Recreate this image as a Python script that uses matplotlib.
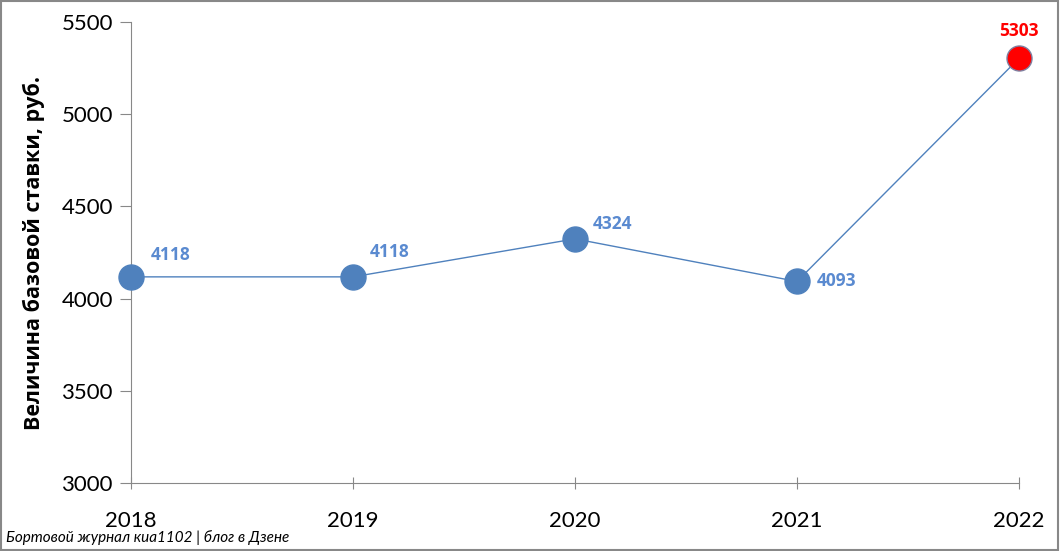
import matplotlib
matplotlib.use('Agg')
import matplotlib.pyplot as plt
from matplotlib.patches import Rectangle

years = ['2018', '2019', '2020', '2021', '2022']
rates = [4118, 4118, 4324, 4093, 5303]
yticks = [3000, 3500, 4000, 4500, 5000, 5500]
# label offsets in points (dx, dy, ha)
label_pos = [(14, 16, 'left'), (12, 18, 'left'), (13, 11, 'left'), (14, 0, 'left'), (0, 20, 'center')]

blue = '#4F81BD'
label_blue = '#5A8AD0'

plt.rcParams['font.family'] = ['Lato', 'DejaVu Sans']

fig = plt.figure(figsize=(10.6, 5.51), dpi=100)
ax = fig.add_axes([0.1236, 0.1234, 0.8377, 0.8366])

x = list(range(len(years)))
ax.plot(x, rates, color=blue, lw=1, zorder=2, clip_on=False)
for i, v in enumerate(rates):
    last = i == len(rates) - 1
    ax.plot(i, v, 'o', ms=18, color='red' if last else blue,
            mec='#7F7FA0' if last else blue, mew=1, zorder=3, clip_on=False)
    dx, dy, ha = label_pos[i]
    ax.annotate(str(v), (i, v), xytext=(dx, dy), textcoords='offset points',
                ha=ha, va='center', fontsize=12.5, fontweight='bold',
                family=['Open Sans', 'DejaVu Sans'],
                color='red' if last else label_blue)

ax.set_xlim(0, len(years) - 1)
ax.set_ylim(3000, 5500)
ax.set_yticks(yticks)
ax.set_xticks(x)
ax.set_xticklabels(years)
ax.tick_params(axis='y', labelsize=16, length=8, color='#888888', pad=5)
ax.tick_params(axis='x', labelsize=16, length=8, color='#888888', pad=16, direction='inout')
for s in ['top', 'right']:
    ax.spines[s].set_visible(False)
for s in ['left', 'bottom']:
    ax.spines[s].set_color('#888888')
ax.set_ylabel('Величина базовой ставки, руб.', fontsize=15.5, fontweight='bold', labelpad=12,
              family=['Open Sans', 'DejaVu Sans'])

fig.patches.append(Rectangle((0.001, 0.002), 0.997, 0.996, transform=fig.transFigure,
                             fill=False, ec='#888888', lw=1.5))
fig.text(0.006, 0.024, 'Бортовой журнал киа1102 | блог в Дзене', fontsize=11,
         style='italic', ha='left', va='center')

fig.savefig('out.png', dpi=100)
